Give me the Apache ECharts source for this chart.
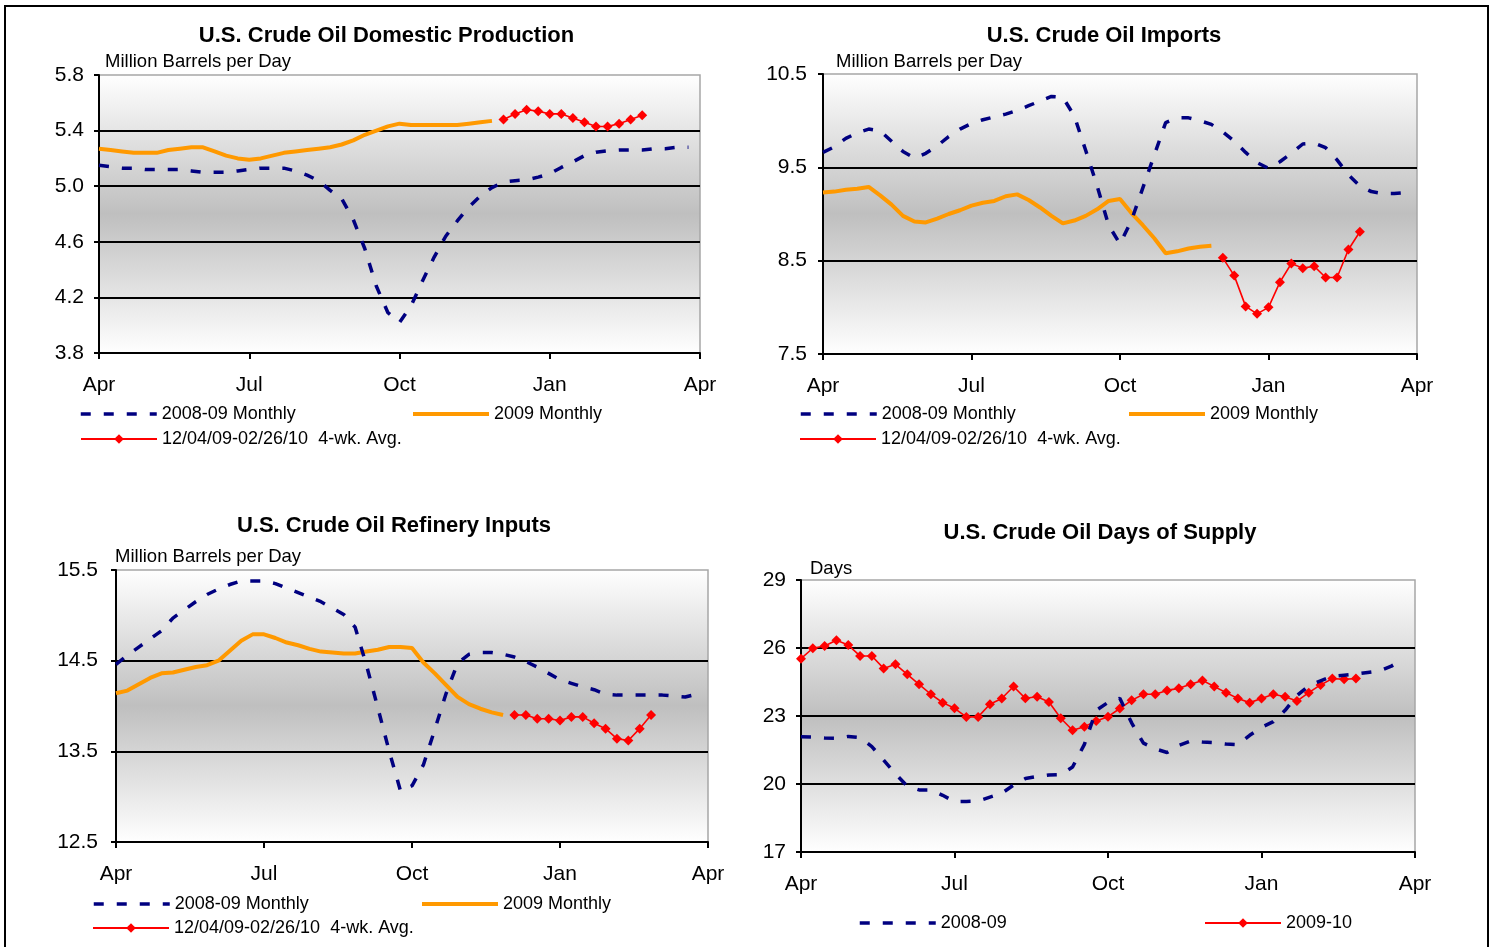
<!DOCTYPE html>
<html>
<head>
<meta charset="utf-8">
<script src="https://cdn.jsdelivr.net/npm/echarts@6/dist/echarts.min.js"></script>
<style>
html,body{margin:0;padding:0;background:#ffffff;}
#c{width:1492px;height:947px;}
</style>
</head>
<body>
<div id="c"></div>
<script>
// ---------------- DATA ----------------
// x axis: weeks since April 1 (0..52), labelled by quarter
const xTickLabels = ['Apr', 'Jul', 'Oct', 'Jan', 'Apr'];
const weeksPerTick = 13;

const panelTitles = ['U.S. Crude Oil Domestic Production', 'U.S. Crude Oil Imports',
                     'U.S. Crude Oil Refinery Inputs', 'U.S. Crude Oil Days of Supply'];
const unitLabels = ['Million Barrels per Day', 'Million Barrels per Day', 'Million Barrels per Day', 'Days'];

const name0809 = '2008-09 Monthly';
const name2009 = '2009 Monthly';
const name4wk = '12/04/09-02/26/10  4-wk. Avg.';
const nameSupply0809 = '2008-09';
const nameSupply0910 = '2009-10';

const start0809 = 0;   // first week of 2008-09 series
const start2009 = 0;   // first week of 2009 monthly series
const start4wk = 35;   // week of 12/04/09
const start0910 = 0;   // first week of 2009-10 days of supply

// Domestic production
const prod0809 = [5.15, 5.14, 5.13, 5.13, 5.12, 5.12, 5.12, 5.12, 5.11, 5.10,
                  5.10, 5.10, 5.11, 5.12, 5.13, 5.13, 5.13, 5.11, 5.08, 5.04,
                  4.97, 4.91, 4.76, 4.55, 4.28, 4.09, 4.02, 4.14, 4.32, 4.49,
                  4.64, 4.75, 4.85, 4.93, 4.99, 5.03, 5.04, 5.045, 5.065, 5.09,
                  5.135, 5.175, 5.22, 5.245, 5.255, 5.26, 5.26, 5.26, 5.27, 5.27,
                  5.28, 5.28];
const prod2009 = [5.27, 5.26, 5.25, 5.24, 5.24, 5.24, 5.26, 5.27, 5.28, 5.28,
                  5.25, 5.22, 5.20, 5.19, 5.20, 5.22, 5.24, 5.25, 5.26, 5.27,
                  5.28, 5.30, 5.33, 5.37, 5.40, 5.43, 5.45, 5.44, 5.44, 5.44,
                  5.44, 5.44, 5.45, 5.46, 5.47];
const prod4wk = [5.48, 5.52, 5.55, 5.54, 5.52, 5.52, 5.49, 5.46, 5.43, 5.43, 5.45, 5.48, 5.51];

// Imports
const imp0809 = [9.66, 9.72, 9.81, 9.87, 9.91, 9.89, 9.78, 9.67, 9.60, 9.65,
                 9.73, 9.83, 9.91, 9.97, 10.01, 10.04, 10.07, 10.11, 10.16, 10.21,
                 10.26, 10.25, 10.05, 9.68, 9.30, 8.88, 8.68, 8.93, 9.28, 9.63,
                 9.98, 10.03, 10.03, 10.00, 9.96, 9.88, 9.78, 9.66, 9.55, 9.49,
                 9.56, 9.65, 9.75, 9.76, 9.71, 9.58, 9.42, 9.30, 9.24, 9.22,
                 9.22, 9.23];
const imp2009 = [9.23, 9.24, 9.26, 9.27, 9.29, 9.20, 9.10, 8.98, 8.92, 8.91,
                 8.95, 9.00, 9.04, 9.09, 9.12, 9.14, 9.19, 9.21, 9.15, 9.07,
                 8.98, 8.90, 8.93, 8.98, 9.05, 9.14, 9.16, 9.01, 8.88, 8.74,
                 8.58, 8.60, 8.63, 8.65, 8.66];
const imp4wk = [8.53, 8.34, 8.01, 7.93, 8.00, 8.27, 8.47, 8.42, 8.44, 8.32, 8.32, 8.62, 8.81];

// Refinery inputs
const ref0809 = [14.46, 14.56, 14.65, 14.74, 14.83, 14.97, 15.06, 15.15, 15.23, 15.29,
                 15.34, 15.38, 15.38, 15.38, 15.35, 15.30, 15.25, 15.20, 15.15, 15.08,
                 15.01, 14.87, 14.45, 13.98, 13.50, 13.06, 13.12, 13.35, 13.74, 14.14,
                 14.47, 14.57, 14.59, 14.59, 14.57, 14.54, 14.49, 14.43, 14.36, 14.29,
                 14.25, 14.21, 14.18, 14.13, 14.12, 14.12, 14.12, 14.12, 14.12, 14.11,
                 14.10, 14.13];
const ref2009 = [14.14, 14.17, 14.24, 14.31, 14.36, 14.37, 14.40, 14.43, 14.45, 14.50,
                 14.61, 14.72, 14.79, 14.79, 14.75, 14.70, 14.67, 14.63, 14.60, 14.59,
                 14.58, 14.58, 14.60, 14.62, 14.65, 14.65, 14.64, 14.48, 14.36, 14.23,
                 14.10, 14.02, 13.97, 13.93, 13.90];
const ref4wk = [13.90, 13.90, 13.86, 13.86, 13.84, 13.88, 13.88, 13.81, 13.75, 13.64, 13.62, 13.75, 13.90];

// Days of supply
const supply0809 = [22.09, 22.07, 22.03, 22.02, 22.10, 22.05, 21.65, 21.05, 20.45, 19.90,
                    19.74, 19.74, 19.50, 19.22, 19.23, 19.25, 19.42, 19.59, 19.95, 20.24,
                    20.33, 20.40, 20.42, 20.75, 21.75, 23.25, 23.60, 23.78, 22.70, 21.80,
                    21.55, 21.39, 21.70, 21.90, 21.85, 21.82, 21.76, 21.73, 22.15, 22.50,
                    22.75, 23.25, 23.90, 24.33, 24.55, 24.75, 24.80, 24.85, 24.92, 24.99,
                    25.20, 25.50];
const supply0910 = [25.53, 25.99, 26.09, 26.34, 26.13, 25.65, 25.65, 25.10, 25.28, 24.84,
                    24.40, 23.96, 23.59, 23.34, 22.96, 22.96, 23.52, 23.77, 24.30, 23.78,
                    23.85, 23.62, 22.90, 22.37, 22.53, 22.78, 22.97, 23.33, 23.69, 23.96,
                    23.96, 24.13, 24.22, 24.40, 24.57, 24.30, 24.03, 23.77, 23.59, 23.77,
                    23.96, 23.85, 23.66, 24.03, 24.37, 24.65, 24.62, 24.65];

// ---------------- LAYOUT / STYLE ----------------
const FONT = 'Arial, "Liberation Sans", sans-serif';
const BLUE = '#000080', ORANGE = '#ff9900', RED = '#ff0000';
const BLUE_LINE = {color: BLUE, width: 3.5, type: [10, 13]};
const ORANGE_LINE = {color: ORANGE, width: 4};
const RED_LINE = {color: RED, width: 1.6};

const layouts = [
  {grid: {left: 99, top: 75, width: 601, height: 278}, yMin: 3.8, yMax: 5.8, yInt: 0.4, dec: 1, lm: 15,
   title: [386.5, 36], unit: [105, 62]},
  {grid: {left: 823, top: 74, width: 594, height: 280}, yMin: 7.5, yMax: 10.5, yInt: 1, dec: 1, lm: 16,
   title: [1104, 36], unit: [836, 62]},
  {grid: {left: 116, top: 570, width: 592, height: 272}, yMin: 12.5, yMax: 15.5, yInt: 1, dec: 1, lm: 18,
   title: [394, 526], unit: [115, 557]},
  {grid: {left: 801, top: 580, width: 614, height: 272}, yMin: 17, yMax: 29, yInt: 3, dec: 0, lm: 15,
   title: [1100, 533], unit: [810, 569]}
];

function pts(arr, start) { return arr.map((v, i) => [start + i, v]); }

function blueSeries(name, arr, gi) {
  return {type: 'line', name: name, xAxisIndex: gi, yAxisIndex: gi, data: pts(arr, start0809),
    symbol: 'none', silent: true, z: 4, lineStyle: BLUE_LINE, itemStyle: {color: BLUE}};
}
function orangeSeries(name, arr, gi) {
  return {type: 'line', name: name, xAxisIndex: gi, yAxisIndex: gi, data: pts(arr, start2009),
    symbol: 'none', silent: true, z: 2, lineStyle: ORANGE_LINE, itemStyle: {color: ORANGE}};
}
function redSeries(name, arr, gi, start) {
  return {type: 'line', name: name, xAxisIndex: gi, yAxisIndex: gi, data: pts(arr, start),
    symbol: 'diamond', symbolSize: 10, showSymbol: true, showAllSymbol: true, silent: true, z: 3,
    lineStyle: RED_LINE, itemStyle: {color: RED}};
}

const series = [
  orangeSeries(name2009, prod2009, 0), redSeries(name4wk, prod4wk, 0, start4wk), blueSeries(name0809, prod0809, 0),
  orangeSeries(name2009, imp2009, 1), redSeries(name4wk, imp4wk, 1, start4wk), blueSeries(name0809, imp0809, 1),
  orangeSeries(name2009, ref2009, 2), redSeries(name4wk, ref4wk, 2, start4wk), blueSeries(name0809, ref0809, 2),
  redSeries(nameSupply0910, supply0910, 3, start0910), blueSeries(nameSupply0809, supply0809, 3)
];

const bg = {type: 'linear', x: 0, y: 0, x2: 0, y2: 1,
  colorStops: [{offset: 0, color: '#ffffff'}, {offset: 0.5, color: '#bfbfbf'}, {offset: 1, color: '#ffffff'}]};

const grids = layouts.map(l => Object.assign({show: true, backgroundColor: bg, borderColor: '#a6a6a6',
  borderWidth: 1.5, containLabel: false, outerBoundsMode: 'none'}, l.grid));

const xAxes = layouts.map((l, i) => ({
  type: 'value', gridIndex: i, min: 0, max: weeksPerTick * (xTickLabels.length - 1), interval: weeksPerTick,
  axisLine: {show: true, onZero: false, lineStyle: {color: '#000', width: 2}},
  axisTick: {show: true, length: 6, lineStyle: {color: '#000', width: 2}},
  axisLabel: {fontSize: 21, color: '#000', fontFamily: FONT, margin: 22,
    formatter: v => xTickLabels[Math.round(v / weeksPerTick)] || ''},
  splitLine: {show: false}
}));

const yAxes = layouts.map((l, i) => ({
  type: 'value', gridIndex: i, min: l.yMin, max: l.yMax, interval: l.yInt,
  axisLine: {show: true, onZero: false, lineStyle: {color: '#000', width: 2}},
  axisTick: {show: true, length: 5, lineStyle: {color: '#000', width: 2}},
  axisLabel: {fontSize: 21, color: '#000', fontFamily: FONT, margin: l.lm,
    formatter: v => Number(v).toFixed(l.dec)},
  splitLine: {show: true, showMinLine: false, showMaxLine: false, lineStyle: {color: '#000', width: 2}}
}));

// legend item positions: [name, left of icon, vertical centre of row, style]
const legendItems = [
  [name0809, 79, 414, 'b'], [name2009, 411, 414, 'o'], [name4wk, 80, 439, 'r'],
  [name0809, 799, 414, 'b'], [name2009, 1127, 414, 'o'], [name4wk, 799, 439, 'r'],
  [name0809, 92, 904, 'b'], [name2009, 420, 904, 'o'], [name4wk, 92, 928, 'r'],
  [nameSupply0809, 858, 923, 'b'], [nameSupply0910, 1204, 923, 'r']
];
const legendStyles = {
  b: {itemStyle: {opacity: 0}, lineStyle: BLUE_LINE},
  o: {itemStyle: {opacity: 0}, lineStyle: ORANGE_LINE},
  r: {itemStyle: {color: RED}, lineStyle: {color: RED, width: 2}}
};
const legends = legendItems.map(it => ({
  show: true, selectedMode: false, orient: 'horizontal', left: it[1], top: it[2] - 9, padding: 0,
  itemWidth: 76, itemHeight: 12,
  textStyle: {fontSize: 18, color: '#000', fontFamily: FONT},
  data: [Object.assign({name: it[0]}, legendStyles[it[3]])]
}));

const graphics = [];
layouts.forEach((l, i) => {
  graphics.push({type: 'text', x: l.title[0], y: l.title[1], silent: true,
    style: {text: panelTitles[i], font: 'bold 22px ' + FONT, fill: '#000',
      textAlign: 'center', align: 'center', textVerticalAlign: 'middle', verticalAlign: 'middle'}});
  graphics.push({type: 'text', x: l.unit[0], y: l.unit[1], silent: true,
    style: {text: unitLabels[i], font: '18.5px ' + FONT, fill: '#000',
      textAlign: 'left', align: 'left', textVerticalAlign: 'middle', verticalAlign: 'middle'}});
});
graphics.push({type: 'rect', silent: true, z: 100,
  shape: {x: 5, y: 6, width: 1483, height: 1000},
  style: {fill: 'none', stroke: '#000', lineWidth: 2}});

const chart = echarts.init(document.getElementById('c'), null, {renderer: 'canvas', width: 1492, height: 947});
chart.setOption({
  backgroundColor: '#ffffff',
  animation: false,
  textStyle: {fontFamily: FONT},
  grid: grids,
  xAxis: xAxes,
  yAxis: yAxes,
  legend: legends,
  series: series,
  graphic: graphics
});
</script>
</body>
</html>
